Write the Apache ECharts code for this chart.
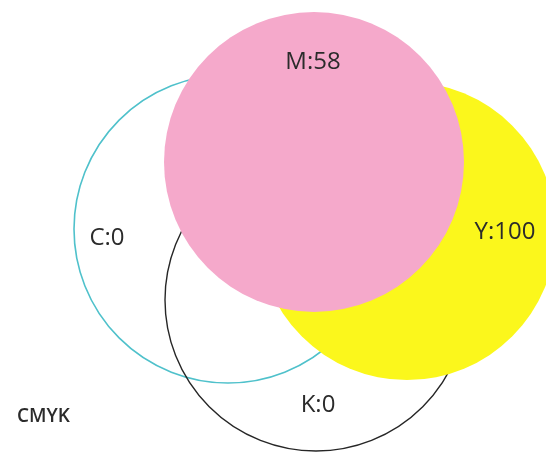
<!DOCTYPE html>
<html>
<head>
<meta charset="utf-8">
<script src="https://cdn.jsdelivr.net/npm/echarts@6/dist/echarts.min.js"></script>
<style>
  html, body { margin: 0; padding: 0; background: #fff; }
  #chart { width: 546px; height: 452px; }
</style>
</head>
<body>
<div id="chart"></div>
<script>
// CMYK values, one circle per ink (drawn in this order, magenta on top)
const inks = ['C', 'K', 'Y', 'M']
const inkValues = [0, 0, 100, 58]
// circle centres / radii in chart units (x right, y down)
const centerX = [228, 316, 407, 314]
const centerY = [229, 300, 231, 162]
const radius = [154, 151, 149, 150]
// where each "X:value" label sits
const labelX = [107, 318, 505, 313]
const labelY = [238, 405, 232, 62]
const titleText = 'CMYK'

const inkStyle = {
  C: { fill: 'none', stroke: '#4fc1cb', lineWidth: 1.6 },
  K: { fill: 'none', stroke: '#262626', lineWidth: 1.4 },
  Y: { fill: '#fbf71c', stroke: null },
  M: { fill: '#f5a9cb', stroke: null }
}

const circleData = inks.map((k, i) => [centerX[i], centerY[i], radius[i]])
const labelData = inks.map((k, i) => [labelX[i], labelY[i], inkValues[i]])

const chart = echarts.init(document.getElementById('chart'))
chart.setOption({
  animation: false,
  title: {
    text: titleText,
    left: 17,
    top: 407,
    padding: 0,
    textStyle: { fontFamily: 'Open Sans', fontSize: 19, fontWeight: 600, color: '#2b2b2b' }
  },
  grid: { left: 0, right: 0, top: 0, bottom: 0 },
  xAxis: { type: 'value', min: 0, max: 546, show: false },
  yAxis: { type: 'value', min: 0, max: 452, inverse: true, show: false },
  series: [
    {
      type: 'custom',
      name: 'circles',
      data: circleData,
      z: 2,
      renderItem: (params, api) => {
        const c = api.coord([api.value(0), api.value(1)])
        const r = api.size([api.value(2), 0])[0]
        const s = inkStyle[inks[params.dataIndex]]
        return {
          type: 'circle',
          shape: { cx: c[0], cy: c[1], r: r },
          style: { fill: s.fill, stroke: s.stroke, lineWidth: s.lineWidth || 0 }
        }
      }
    },
    {
      type: 'custom',
      name: 'labels',
      data: labelData,
      z: 3,
      renderItem: (params, api) => {
        const c = api.coord([api.value(0), api.value(1)])
        return {
          type: 'text',
          x: c[0],
          y: c[1],
          style: {
            text: inks[params.dataIndex] + ':' + api.value(2),
            fontFamily: 'Open Sans',
            fontSize: 24,
            fill: '#2b2b2b',
            align: 'center',
            verticalAlign: 'middle'
          }
        }
      }
    }
  ]
})
</script>
</body>
</html>
